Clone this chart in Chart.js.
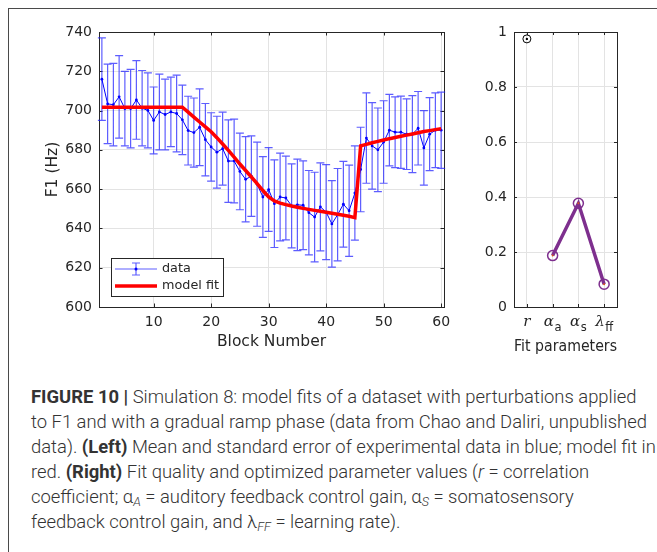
<!DOCTYPE html>
<html>
<head>
<meta charset="utf-8">
<script src="https://cdn.jsdelivr.net/npm/chart.js@4.4.0/dist/chart.umd.min.js"></script>
<style>
  html, body { margin: 0; padding: 0; background: #fff; }
  body { width: 657px; height: 552px; position: relative; overflow: hidden; }
  #frame { position: absolute; left: 8px; top: 8px; width: 700px; height: 600px;
           border-left: 1px solid #4a4a4a; border-top: 1px solid #4a4a4a; }
  #left { position: absolute; left: 0; top: 0; }
  #right { position: absolute; left: 460px; top: 0; }
  #caption { position: absolute; left: 31px; top: 384px; font-family: Roboto, sans-serif;
             font-weight: 300; color: #333; line-height: 25px; font-size: 17px; white-space: nowrap; }
  #caption b { font-weight: 700; }
  #caption sub { font-size: 0.68em; vertical-align: -0.25em; line-height: 0; }
</style>
</head>
<body>
<div id="frame"></div>
<canvas id="left" width="460" height="360"></canvas>
<canvas id="right" width="197" height="360"></canvas>
<div id="caption">
  <div><span id="line1"><b>FIGURE 10 |</b> Simulation 8: model fits of a dataset with perturbations applied</span></div>
  <div>to F1 and with a gradual ramp phase (data from Chao and Daliri, unpublished</div>
  <div>data). <b>(Left)</b> Mean and standard error of experimental data in blue; model fit in</div>
  <div>red. <b>(Right)</b> Fit quality and optimized parameter values (<i>r</i> = correlation</div>
  <div>coefficient; &alpha;<sub><i>A</i></sub> = auditory feedback control gain, &alpha;<sub><i>S</i></sub> = somatosensory</div>
  <div>feedback control gain, and &lambda;<sub><i>FF</i></sub> = learning rate).</div>
</div>
<script>
// Left panel data
const blocks = [1, 2, 3, 4, 5, 6, 7, 8, 9, 10, 11, 12, 13, 14, 15, 16, 17, 18, 19, 20,
  21, 22, 23, 24, 25, 26, 27, 28, 29, 30, 31, 32, 33, 34, 35, 36, 37, 38, 39, 40,
  41, 42, 43, 44, 45, 46, 47, 48, 49, 50, 51, 52, 53, 54, 55, 56, 57, 58, 59, 60];
const f1Mean = [716, 703.4, 703, 707, 701, 701, 705.4, 701.2, 700.1, 695,
  699.3, 698, 699.3, 698.5, 695.3, 689.8, 688.8, 691.5, 685.2, 681.5,
  678.8, 680.6, 674.3, 674.3, 669, 665, 666.6, 662.5, 656, 659.8,
  652.6, 656, 655.5, 651.5, 652, 651.8, 648, 645.8, 651, 648.3,
  642.3, 647, 652.3, 649, 658, 670, 686, 682, 680, 684,
  690, 689, 689, 688, 688, 691, 681, 688, 690, 690];
const f1Sem = [21, 20.2, 21, 21, 19, 20, 20, 19.2, 19.1, 17,
  19.3, 18, 17.7, 19.5, 17.7, 17.5, 17.6, 19.5, 18.4, 17.4,
  18.3, 18.6, 21, 21.3, 19.5, 21.7, 20.5, 21.4, 20.6, 21.3,
  22.3, 22.3, 21.3, 21.4, 23.3, 22.6, 21.5, 22.8, 22.4, 24.2,
  22, 23.5, 21.8, 23.2, 24, 21.5, 23, 22, 21.3, 21,
  18.2, 18, 18.4, 18, 19.6, 18.7, 19, 18.6, 19, 19.4];
const modelFit = [701.7, 701.7, 701.7, 701.7, 701.7, 701.7, 701.7, 701.7, 701.7, 701.7,
  701.7, 701.7, 701.7, 701.7, 701.7, 699.2, 696.7, 694.2, 691.7, 689.2,
  686.2, 683, 679.7, 676.3, 672.8, 669.5, 666.2, 662.8, 659.3, 656,
  654, 652.9, 652.1, 651.4, 650.8, 650.2, 649.7, 649.2, 648.7, 648.2,
  647.7, 647.2, 646.7, 646.2, 645.5, 682, 682.8, 683.6, 684.3, 685,
  685.7, 686.3, 686.9, 687.5, 688.1, 688.7, 689.3, 689.8, 690.3, 690.8];
const blockTicks = [10, 20, 30, 40, 50, 60];
const f1Ticks = [600, 620, 640, 660, 680, 700, 720, 740];

// Right panel data
const paramPos = [1, 2, 3, 4];
const paramNames = ['r', 'α', 'α', 'λ'];
const paramSubs = ['', 'a', 's', 'ff'];
const paramValues = [0.975, 0.187, 0.377, 0.083];
const paramTicks = [0, 0.2, 0.4, 0.6, 0.8, 1];

const axisColor = '#262626';
const gridColor = '#e3e3e3';
Chart.defaults.font.family = 'DejaVu Sans';
Chart.defaults.color = axisColor;

// fit caption font size to the reference line width
const line1 = document.getElementById('line1');
const w1 = line1.getBoundingClientRect().width;
document.getElementById('caption').style.fontSize = (17 * 606 / w1) + 'px';

// axes box with inward ticks on all sides (MATLAB style)
function boxPlugin(tickLen) {
  return {
    id: 'box',
    beforeDatasetsDraw(chart) {
      const { ctx, chartArea: a, scales } = chart;
      ctx.save();
      ctx.strokeStyle = axisColor;
      ctx.lineWidth = 1;
      ctx.strokeRect(Math.round(a.left) + 0.5, Math.round(a.top) + 0.5,
        Math.round(a.right - a.left), Math.round(a.bottom - a.top));
      ctx.beginPath();
      scales.x.ticks.forEach(t => {
        const px = Math.round(scales.x.getPixelForValue(t.value)) + 0.5;
        ctx.moveTo(px, a.bottom); ctx.lineTo(px, a.bottom - tickLen);
        ctx.moveTo(px, a.top); ctx.lineTo(px, a.top + tickLen);
      });
      scales.y.ticks.forEach(t => {
        const py = Math.round(scales.y.getPixelForValue(t.value)) + 0.5;
        ctx.moveTo(a.left, py); ctx.lineTo(a.left + tickLen, py);
        ctx.moveTo(a.right, py); ctx.lineTo(a.right - tickLen, py);
      });
      ctx.stroke();
      ctx.restore();
    }
  };
}

const errorBars = {
  id: 'errorBars',
  beforeDatasetsDraw(chart) {
    const { ctx, scales: { x, y } } = chart;
    ctx.save();
    ctx.strokeStyle = 'rgba(30, 30, 255, 0.72)';
    ctx.lineWidth = 1.2;
    ctx.beginPath();
    blocks.forEach((b, i) => {
      const px = x.getPixelForValue(b);
      const top = y.getPixelForValue(f1Mean[i] + f1Sem[i]);
      const bot = y.getPixelForValue(f1Mean[i] - f1Sem[i]);
      ctx.moveTo(px, top); ctx.lineTo(px, bot);
      ctx.moveTo(px - 4, top); ctx.lineTo(px + 4, top);
      ctx.moveTo(px - 4, bot); ctx.lineTo(px + 4, bot);
    });
    ctx.stroke();
    ctx.restore();
  }
};

const legendBox = {
  id: 'legendBox',
  afterDraw(chart) {
    const { ctx, chartArea: a } = chart;
    const x0 = Math.round(a.left) + 12, y0 = Math.round(a.bottom) - 49;
    ctx.save();
    ctx.fillStyle = '#fff';
    ctx.fillRect(x0, y0, 112, 38);
    ctx.strokeStyle = axisColor;
    ctx.lineWidth = 1;
    ctx.strokeRect(x0 + 0.5, y0 + 0.5, 112, 38);
    // data entry
    const ly1 = y0 + 11, ly2 = y0 + 28;
    ctx.strokeStyle = 'rgba(30, 30, 255, 0.72)';
    ctx.lineWidth = 1.2;
    ctx.beginPath();
    ctx.moveTo(x0 + 4, ly1); ctx.lineTo(x0 + 46, ly1);
    ctx.moveTo(x0 + 25, ly1 - 6); ctx.lineTo(x0 + 25, ly1 + 6);
    ctx.moveTo(x0 + 21, ly1 - 6); ctx.lineTo(x0 + 29, ly1 - 6);
    ctx.moveTo(x0 + 21, ly1 + 6); ctx.lineTo(x0 + 29, ly1 + 6);
    ctx.stroke();
    ctx.fillStyle = '#0000ff';
    ctx.beginPath(); ctx.arc(x0 + 25, ly1, 1.5, 0, Math.PI * 2); ctx.fill();
    // model fit entry
    ctx.strokeStyle = '#ff0000';
    ctx.lineWidth = 3.5;
    ctx.beginPath(); ctx.moveTo(x0 + 4, ly2); ctx.lineTo(x0 + 46, ly2); ctx.stroke();
    ctx.fillStyle = axisColor;
    ctx.font = '12.8px "DejaVu Sans"';
    ctx.textBaseline = 'middle';
    ctx.fillText('data', x0 + 51, ly1);
    ctx.fillText('model fit', x0 + 51, ly2);
    ctx.restore();
  }
};

new Chart(document.getElementById('left'), {
  type: 'line',
  data: {
    datasets: [
      {
        label: 'model fit',
        data: blocks.map((b, i) => ({ x: b, y: modelFit[i] })),
        borderColor: '#ff0000',
        borderWidth: 3.5,
        pointRadius: 0,
        order: 0
      },
      {
        label: 'data',
        data: blocks.map((b, i) => ({ x: b, y: f1Mean[i] })),
        borderColor: '#0000ff',
        backgroundColor: '#0000ff',
        borderWidth: 1,
        pointRadius: 1.4,
        pointBorderWidth: 0,
        order: 1
      }
    ]
  },
  options: {
    responsive: false,
    animation: false,
    layout: { padding: { top: 32, right: 16, left: 0, bottom: 0 } },
    plugins: { legend: { display: false }, tooltip: { enabled: false } },
    scales: {
      x: {
        type: 'linear', min: 0.5, max: 60.5,
        afterBuildTicks: s => { s.ticks = blockTicks.map(v => ({ value: v })); },
        afterFit: s => { s.height = 53; },
        grid: { color: gridColor, drawTicks: false },
        border: { display: false },
        ticks: { font: { size: 14 }, padding: 7, maxRotation: 0, autoSkip: false, callback: v => String(v) },
        title: { display: true, text: 'Block Number', font: { size: 15.5 }, padding: { top: 0, bottom: 9 } }
      },
      y: {
        type: 'linear', min: 600, max: 740,
        afterBuildTicks: s => { s.ticks = f1Ticks.map(v => ({ value: v })); },
        afterFit: s => { s.width = 99; },
        grid: { color: gridColor, drawTicks: false },
        border: { display: false },
        ticks: { font: { size: 14 }, padding: 7, autoSkip: false, callback: v => String(v) },
        title: { display: true, text: 'F1 (Hz)', font: { size: 15.5 }, padding: { top: 44, bottom: 0 } }
      }
    }
  },
  plugins: [boxPlugin(3.5), errorBars, legendBox]
});

const paramLabels = {
  id: 'paramLabels',
  afterDraw(chart) {
    const { ctx, chartArea: a, scales: { x } } = chart;
    ctx.save();
    ctx.fillStyle = axisColor;
    ctx.textBaseline = 'middle';
    paramPos.forEach((p, i) => {
      const baseFont = 'italic 15px "DejaVu Serif"';
      const subFont = '11.5px "DejaVu Sans"';
      ctx.font = baseFont;
      const wb = ctx.measureText(paramNames[i]).width;
      ctx.font = subFont;
      const ws = paramSubs[i] ? ctx.measureText(paramSubs[i]).width + 0.5 : 0;
      const left = x.getPixelForValue(p) - (wb + ws) / 2;
      const cy = a.bottom + 15;
      ctx.font = baseFont;
      ctx.fillText(paramNames[i], left, cy);
      if (paramSubs[i]) {
        ctx.font = subFont;
        ctx.fillText(paramSubs[i], left + wb + 0.5, cy + 6.5);
      }
    });
    ctx.restore();
  }
};

new Chart(document.getElementById('right'), {
  type: 'line',
  data: {
    datasets: [
      {
        data: paramPos.slice(1).map((p, i) => ({ x: p, y: paramValues[i + 1] })),
        borderColor: '#7e2f8e',
        borderWidth: 3.5,
        pointRadius: 0,
        order: 3
      },
      {
        data: paramPos.slice(1).map((p, i) => ({ x: p, y: paramValues[i + 1] })),
        showLine: false,
        pointRadius: 5,
        pointBorderWidth: 1.5,
        pointBorderColor: '#7e2f8e',
        pointBackgroundColor: 'rgba(0,0,0,0)',
        order: 2
      },
      {
        data: paramPos.slice(1).map((p, i) => ({ x: p, y: paramValues[i + 1] })),
        showLine: false,
        pointRadius: 1,
        pointBorderWidth: 0,
        pointBackgroundColor: '#d95319',
        order: 1
      },
      {
        data: [{ x: paramPos[0], y: paramValues[0] }],
        showLine: false,
        pointRadius: 4,
        pointBorderWidth: 1,
        pointBorderColor: '#000',
        pointBackgroundColor: 'rgba(0,0,0,0)',
        order: 1
      },
      {
        data: [{ x: paramPos[0], y: paramValues[0] }],
        showLine: false,
        pointRadius: 1.2,
        pointBorderWidth: 0,
        pointBackgroundColor: '#000',
        order: 0
      }
    ]
  },
  options: {
    responsive: false,
    animation: false,
    layout: { padding: { top: 32, right: 40, left: 0, bottom: 0 } },
    plugins: { legend: { display: false }, tooltip: { enabled: false } },
    scales: {
      x: {
        type: 'linear', min: 0.5, max: 4.5,
        afterBuildTicks: s => { s.ticks = paramPos.map(v => ({ value: v })); },
        afterFit: s => { s.height = 53; },
        grid: { color: gridColor, drawTicks: false },
        border: { display: false },
        ticks: { display: false },
        title: { display: true, text: 'Fit parameters', font: { size: 15.5 }, padding: { top: 0, bottom: 4 } }
      },
      y: {
        type: 'linear', min: 0, max: 1,
        afterBuildTicks: s => { s.ticks = paramTicks.map(v => ({ value: v })); },
        afterFit: s => { s.width = 54; },
        grid: { color: gridColor, drawTicks: false },
        border: { display: false },
        ticks: { font: { size: 14 }, padding: 7, autoSkip: false, callback: v => String(v) }
      }
    }
  },
  plugins: [boxPlugin(3), paramLabels]
});
</script>
</body>
</html>
